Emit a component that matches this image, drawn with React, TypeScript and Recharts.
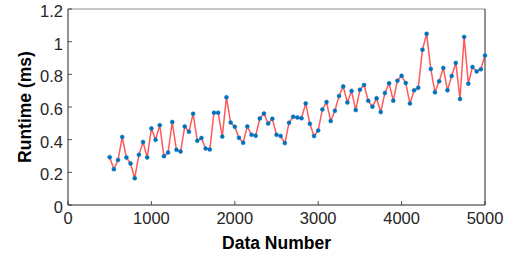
import React from 'react';
import { LineChart, Line, XAxis, YAxis, ReferenceLine } from 'recharts';

// sample sizes (x) and measured runtimes (y, ms)
const dataNumbers = [
  500, 550, 600, 650, 700, 750, 800, 850, 900, 950,
  1000, 1050, 1100, 1150, 1200, 1250, 1300, 1350, 1400, 1450,
  1500, 1550, 1600, 1650, 1700, 1750, 1800, 1850, 1900, 1950,
  2000, 2050, 2100, 2150, 2200, 2250, 2300, 2350, 2400, 2450,
  2500, 2550, 2600, 2650, 2700, 2750, 2800, 2850, 2900, 2950,
  3000, 3050, 3100, 3150, 3200, 3250, 3300, 3350, 3400, 3450,
  3500, 3550, 3600, 3650, 3700, 3750, 3800, 3850, 3900, 3950,
  4000, 4050, 4100, 4150, 4200, 4250, 4300, 4350, 4400, 4450,
  4500, 4550, 4600, 4650, 4700, 4750, 4800, 4850, 4900, 4950,
  5000,
];

const runtimes = [
  0.293, 0.219, 0.276, 0.416, 0.291, 0.254, 0.164, 0.307, 0.385, 0.291,
  0.469, 0.399, 0.489, 0.299, 0.321, 0.508, 0.338, 0.327, 0.481, 0.448,
  0.559, 0.393, 0.41, 0.346, 0.34, 0.565, 0.565, 0.419, 0.659, 0.505,
  0.479, 0.411, 0.381, 0.481, 0.43, 0.424, 0.53, 0.56, 0.499, 0.528,
  0.43, 0.422, 0.379, 0.503, 0.54, 0.536, 0.531, 0.622, 0.497, 0.422,
  0.456, 0.585, 0.63, 0.514, 0.577, 0.667, 0.726, 0.628, 0.698, 0.581,
  0.706, 0.735, 0.638, 0.602, 0.653, 0.569, 0.686, 0.745, 0.639, 0.761,
  0.791, 0.747, 0.621, 0.702, 0.718, 0.951, 1.048, 0.833, 0.69, 0.757,
  0.839, 0.702, 0.79, 0.87, 0.649, 1.029, 0.743, 0.845, 0.818, 0.831,
  0.915,
];

const xTicks = [0, 1000, 2000, 3000, 4000, 5000];
const yTicks = [0, 0.2, 0.4, 0.6, 0.8, 1, 1.2];

const data = dataNumbers.map((n, i) => ({ n, runtime: runtimes[i] }));

const FONT = '"Liberation Sans", Arial, sans-serif';
const AXIS = '#262626';
const PLOT_LEFT = 68;
const PLOT_BOTTOM = 205;

// ticks drawn inward, like matlab
const XTick = (props: any) => {
  const { x, payload } = props;
  return (
    <g>
      <line x1={x} y1={PLOT_BOTTOM} x2={x} y2={PLOT_BOTTOM - 4} stroke={AXIS} strokeWidth={0.8} />
      <text x={x} y={224} textAnchor="middle" fontSize={16.5} fill={AXIS} fontFamily={FONT}>
        {payload.value}
      </text>
    </g>
  );
};

const YTick = (props: any) => {
  const { y, payload } = props;
  return (
    <g>
      <line x1={PLOT_LEFT} y1={y} x2={PLOT_LEFT + 4} y2={y} stroke={AXIS} strokeWidth={0.8} />
      <text x={63} y={y + 8} textAnchor="end" fontSize={16.5} fill={AXIS} fontFamily={FONT}>
        {payload.value}
      </text>
    </g>
  );
};

const App = () => {
  return (
    <div style={{ position: 'absolute', left: 0, top: 0, background: '#fff' }}>
      <LineChart width={519} height={262} data={data} margin={{ top: 9, right: 34, bottom: 0, left: 0 }}>
        <XAxis
          dataKey="n"
          type="number"
          domain={[0, 5000]}
          ticks={xTicks}
          height={57}
          stroke={AXIS}
          tickLine={false}
          tick={<XTick />}
          interval={0}
          label={{
            content: () => (
              <text x={276.5} y={249} textAnchor="middle" fontSize={17.5} fontWeight="bold" fill="#000" fontFamily={FONT}>
                Data Number
              </text>
            ),
          }}
        />
        <YAxis
          type="number"
          domain={[0, 1.2]}
          ticks={yTicks}
          width={68}
          stroke={AXIS}
          tickLine={false}
          tick={<YTick />}
          interval={0}
          label={{
            content: () => (
              <text
                x={31}
                y={107}
                textAnchor="middle"
                fontSize={17.5}
                fontWeight="bold"
                fill="#000"
                fontFamily={FONT}
                transform="rotate(-90 31 107)"
              >
                Runtime (ms)
              </text>
            ),
          }}
        />
        <ReferenceLine y={1.2} stroke="#8a8a8a" strokeWidth={1} />
        <ReferenceLine x={5000} stroke={AXIS} strokeWidth={1} />
        <Line
          dataKey="runtime"
          stroke="#ff3030"
          strokeOpacity={0.8}
          strokeWidth={1.5}
          dot={{ r: 2, fill: '#0072bd', stroke: '#0072bd', strokeWidth: 0.6 }}
          activeDot={false}
          isAnimationActive={false}
        />
      </LineChart>
    </div>
  );
};

export default App;
